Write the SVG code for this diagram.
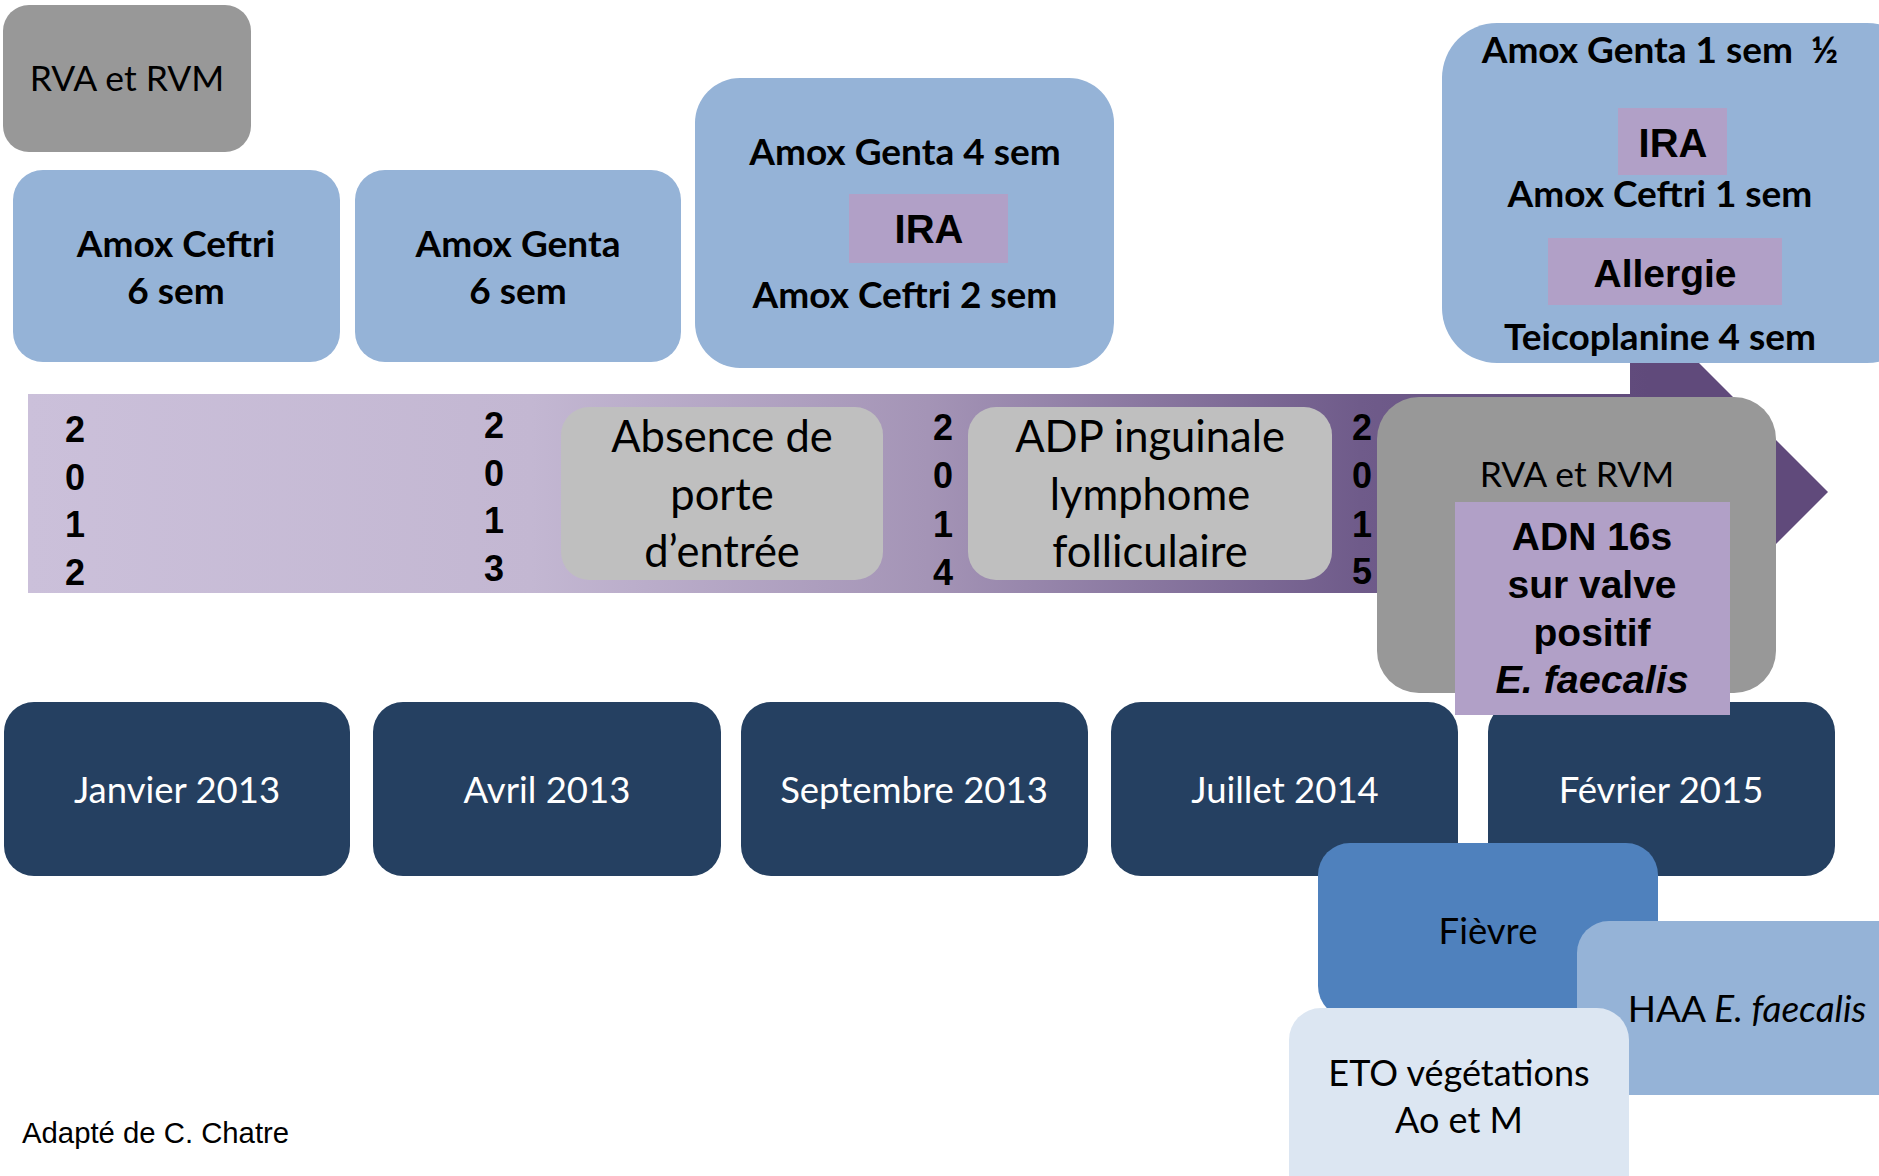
<svg xmlns="http://www.w3.org/2000/svg" width="1879" height="1176" viewBox="0 0 1879 1176">
<defs>
<linearGradient id="bandGrad" gradientUnits="userSpaceOnUse" x1="28" y1="0" x2="1828" y2="0">
<stop offset="0" stop-color="#CBC0DA"/>
<stop offset="0.28" stop-color="#C3B7D2"/>
<stop offset="0.5" stop-color="#A494B6"/>
<stop offset="0.74" stop-color="#6F5B8A"/>
<stop offset="0.9" stop-color="#604A7B"/>
</linearGradient>
<style>
.blue{fill:#95B3D7}
.grey{fill:#989898}
.lgrey{fill:#BFBFBF}
.navy{fill:#254061}
.pur{fill:#B1A0C7}
.t{font-family:Lato,"Liberation Sans",sans-serif;text-anchor:middle;fill:#000}
.tb{font-family:Lato,"Liberation Sans",sans-serif;font-weight:700;text-anchor:middle;fill:#000;font-size:37px}
.ab{font-family:"Liberation Sans",Arial,sans-serif;font-weight:700;text-anchor:middle;fill:#000}
.yr{font-family:"Liberation Sans",Arial,sans-serif;font-weight:700;font-size:36px;text-anchor:middle;fill:#000}
.w{fill:#fff}
</style>
</defs>
<rect width="1879" height="1176" fill="#fff"/>

<g id="timeline-arrow">
<path d="M28,394 L1630,394 L1630,294 L1828,492 L1630,690 L1630,593 L28,593 Z" fill="url(#bandGrad)"/>
</g>

<g id="years">
<text class="yr" x="75" y="442">2</text><text class="yr" x="75" y="490">0</text><text class="yr" x="75" y="537">1</text><text class="yr" x="75" y="585">2</text>
<text class="yr" x="494" y="438">2</text><text class="yr" x="494" y="486">0</text><text class="yr" x="494" y="533">1</text><text class="yr" x="494" y="581">3</text>
<text class="yr" x="943" y="440">2</text><text class="yr" x="943" y="488">0</text><text class="yr" x="943" y="537">1</text><text class="yr" x="943" y="585">4</text>
<text class="yr" x="1362" y="440">2</text><text class="yr" x="1362" y="488">0</text><text class="yr" x="1362" y="537">1</text><text class="yr" x="1362" y="584">5</text>
</g>

<g id="node-rva-2012">
<rect class="grey" x="3" y="5" width="248" height="147" rx="26"/>
<text class="t" x="127" y="91" font-size="35.5">RVA et RVM</text>
</g>

<g id="node-amox-ceftri-6">
<rect class="blue" x="13" y="170" width="327" height="192" rx="30"/>
<text class="tb" x="176" y="257">Amox Ceftri</text>
<text class="tb" x="176" y="304">6 sem</text>
</g>

<g id="node-amox-genta-6">
<rect class="blue" x="355" y="170" width="326" height="192" rx="30"/>
<text class="tb" x="518" y="257">Amox Genta</text>
<text class="tb" x="518" y="304">6 sem</text>
</g>

<g id="node-amox-genta-4">
<rect class="blue" x="695" y="78" width="419" height="290" rx="45"/>
<text class="tb" x="905" y="165">Amox Genta 4 sem</text>
<rect class="pur" x="849" y="194" width="159" height="69"/>
<text class="ab" x="929" y="243" font-size="40">IRA</text>
<text class="tb" x="905" y="308">Amox Ceftri 2 sem</text>
</g>

<g id="node-amox-genta-1">
<rect class="blue" x="1442" y="23" width="480" height="340" rx="55"/>
<text class="tb" x="1660" y="63" xml:space="preserve">Amox Genta 1 sem  ½</text>
<rect class="pur" x="1618" y="108" width="109" height="67"/>
<text class="ab" x="1673" y="157" font-size="40">IRA</text>
<text class="tb" x="1660" y="207">Amox Ceftri 1 sem</text>
<rect class="pur" x="1548" y="238" width="234" height="67"/>
<text class="ab" x="1665" y="287" font-size="39">Allergie</text>
<text class="tb" x="1660" y="350">Teicoplanine 4 sem</text>
</g>

<g id="node-absence">
<rect class="lgrey" x="561" y="407" width="322" height="173" rx="28"/>
<text class="t" x="722" y="452" font-size="43.5">Absence de</text>
<text class="t" x="722" y="510" font-size="43.5">porte</text>
<text class="t" x="722" y="567" font-size="43.5">d’entrée</text>
</g>

<g id="node-adp">
<rect class="lgrey" x="968" y="407" width="364" height="173" rx="28"/>
<text class="t" x="1150" y="452" font-size="43.5">ADP inguinale</text>
<text class="t" x="1150" y="510" font-size="43.5">lymphome</text>
<text class="t" x="1150" y="567" font-size="43.5">folliculaire</text>
</g>

<g id="node-janvier-2013">
<rect class="navy" x="4" y="702" width="346" height="174" rx="30"/>
<text class="t w" x="177" y="803" font-size="36.5">Janvier 2013</text>
</g>
<g id="node-avril-2013">
<rect class="navy" x="373" y="702" width="348" height="174" rx="30"/>
<text class="t w" x="547" y="803" font-size="36.5">Avril 2013</text>
</g>
<g id="node-septembre-2013">
<rect class="navy" x="741" y="702" width="347" height="174" rx="30"/>
<text class="t w" x="914" y="803" font-size="36.5">Septembre 2013</text>
</g>
<g id="node-juillet-2014">
<rect class="navy" x="1111" y="702" width="347" height="174" rx="30"/>
<text class="t w" x="1285" y="803" font-size="36.5">Juillet 2014</text>
</g>
<g id="node-fevrier-2015">
<rect class="navy" x="1488" y="702" width="347" height="174" rx="30"/>
<text class="t w" x="1661" y="803" font-size="36.5">Février 2015</text>
</g>

<g id="node-rva-2015">
<rect class="grey" x="1377" y="397" width="399" height="296" rx="42"/>
<text class="t" x="1577" y="487" font-size="35.5">RVA et RVM</text>
</g>

<g id="node-adn-16s">
<rect class="pur" x="1455" y="502" width="275" height="213"/>
<text class="ab" x="1592" y="550" font-size="39">ADN 16s</text>
<text class="ab" x="1592" y="598" font-size="39">sur valve</text>
<text class="ab" x="1592" y="646" font-size="39">positif</text>
<text class="ab" x="1592" y="693" font-size="39.5" font-style="italic">E. faecalis</text>
</g>

<g id="node-fievre">
<rect x="1318" y="843" width="340" height="175" rx="32" fill="#4F81BD"/>
<text class="t" x="1488" y="944" font-size="36.5">Fièvre</text>
</g>

<g id="node-haa">
<rect class="blue" x="1577" y="921" width="340" height="174" rx="32"/>
<text class="t" x="1747" y="1022" font-size="37">HAA <tspan font-style="italic">E. faecalis</tspan></text>
</g>

<g id="node-eto">
<rect x="1289" y="1008" width="340" height="200" rx="32" fill="#DCE6F2"/>
<text class="t" x="1459" y="1086" font-size="36">ETO végétations</text>
<text class="t" x="1459" y="1133" font-size="36">Ao et M</text>
</g>

<g id="credit">
<text x="22" y="1143" font-family="'Liberation Sans',Arial,sans-serif" font-size="29.3" fill="#000">Adapté de C. Chatre</text>
</g>
</svg>
